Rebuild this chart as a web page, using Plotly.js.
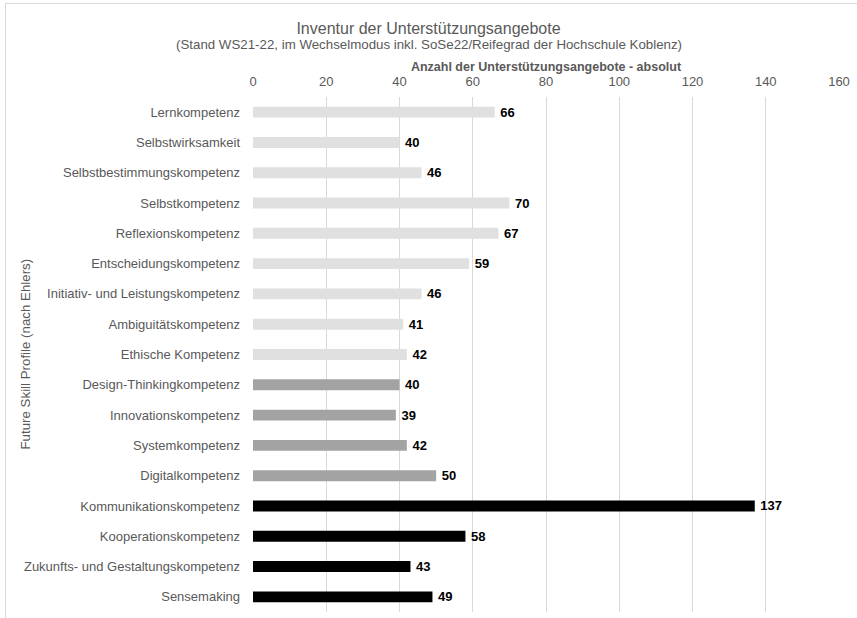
<!DOCTYPE html>
<html>
<head>
<meta charset="utf-8">
<script src="https://cdn.plot.ly/plotly-3.0.1.min.js"></script>
<style>
  html, body { margin: 0; padding: 0; background: #ffffff; }
  #frame { position: absolute; left: 5px; top: 3px; width: 900px; height: 640px; border: 1px solid #d9d9d9; box-sizing: border-box; }
  #chart { position: absolute; left: 0; top: 0; width: 857px; height: 618px; }
</style>
</head>
<body>
<div id="frame"></div>
<div id="chart"></div>
<script>
// Data
const categories = [
  "Lernkompetenz",
  "Selbstwirksamkeit",
  "Selbstbestimmungskompetenz",
  "Selbstkompetenz",
  "Reflexionskompetenz",
  "Entscheidungskompetenz",
  "Initiativ- und Leistungskompetenz",
  "Ambiguitätskompetenz",
  "Ethische Kompetenz",
  "Design-Thinkingkompetenz",
  "Innovationskompetenz",
  "Systemkompetenz",
  "Digitalkompetenz",
  "Kommunikationskompetenz",
  "Kooperationskompetenz",
  "Zukunfts- und Gestaltungskompetenz",
  "Sensemaking"
];
const values = [66, 40, 46, 70, 67, 59, 46, 41, 42, 40, 39, 42, 50, 137, 58, 43, 49];
const groups = [
  "individuell", "individuell", "individuell", "individuell", "individuell",
  "individuell", "individuell", "individuell", "individuell",
  "objektbezogen", "objektbezogen", "objektbezogen", "objektbezogen",
  "organisationsbezogen", "organisationsbezogen", "organisationsbezogen", "organisationsbezogen"
];
const xTicks = [0, 20, 40, 60, 80, 100, 120, 140, 160];

const groupColors = {
  "individuell": "#e0e0e0",
  "objektbezogen": "#a3a3a3",
  "organisationsbezogen": "#000000"
};

const FONT = "'Liberation Sans', Arial, sans-serif";
const GRAY = "#595959";
const W = 857, H = 618;
const M = { l: 253, r: 18, t: 97, b: 6 };
const plotW = W - M.l - M.r, plotH = H - M.t - M.b;

const trace = {
  type: "bar",
  orientation: "h",
  y: categories,
  x: values,
  marker: { color: groups.map(g => groupColors[g]) },
  texttemplate: "\u2009%{x}",
  textposition: "outside",
  constraintext: "none",
  textfont: { family: FONT, size: 13, color: "#000000", weight: "bold" },
  cliponaxis: false,
  hoverinfo: "x+y"
};

const layout = {
  width: W,
  height: H,
  margin: M,
  paper_bgcolor: "rgba(0,0,0,0)",
  plot_bgcolor: "rgba(0,0,0,0)",
  font: { family: FONT, size: 13, color: GRAY },
  showlegend: false,
  bargap: 0.64,
  title: {
    text: "Inventur der Unterstützungsangebote",
    font: { family: FONT, size: 16, color: GRAY },
    x: 0.5, xref: "container",
    y: 1 - 28 / H, yref: "container", yanchor: "middle"
  },
  xaxis: {
    side: "top",
    range: [0, 160],
    tickvals: xTicks,
    ticktext: xTicks.map(String),
    showgrid: true,
    gridcolor: "#d9d9d9",
    gridwidth: 1,
    zeroline: false,
    showline: false,
    ticks: "",
    ticklabelstandoff: 7,
    tickfont: { family: FONT, size: 13, color: GRAY },
    title: {
      text: "Anzahl der Unterstützungsangebote - absolut",
      font: { family: FONT, size: 12.5, color: GRAY, weight: "bold" },
      standoff: 0
    },
    fixedrange: true
  },
  yaxis: {
    type: "category",
    autorange: false,
    range: [categories.length - 0.5, -0.5],
    showgrid: false,
    zeroline: false,
    showline: false,
    ticks: "",
    ticklabelstandoff: 12,
    tickfont: { family: FONT, size: 13, color: GRAY },
    fixedrange: true
  },
  annotations: [
    {
      text: "(Stand WS21-22, im Wechselmodus inkl. SoSe22/Reifegrad der Hochschule Koblenz)",
      xref: "paper", yref: "paper",
      x: (W / 2 - M.l) / plotW,
      y: 1 + (M.t - 44) / plotH,
      xanchor: "center", yanchor: "middle",
      showarrow: false,
      font: { family: FONT, size: 13.3, color: GRAY }
    },
    {
      text: "Future Skill Profile (nach Ehlers)",
      textangle: -90,
      xref: "paper", yref: "paper",
      x: (25 - M.l) / plotW,
      y: 0.5,
      xanchor: "center", yanchor: "middle",
      showarrow: false,
      font: { family: FONT, size: 13.3, color: GRAY }
    }
  ]
};

Plotly.newPlot("chart", [trace], layout, { displayModeBar: false });
</script>
</body>
</html>
